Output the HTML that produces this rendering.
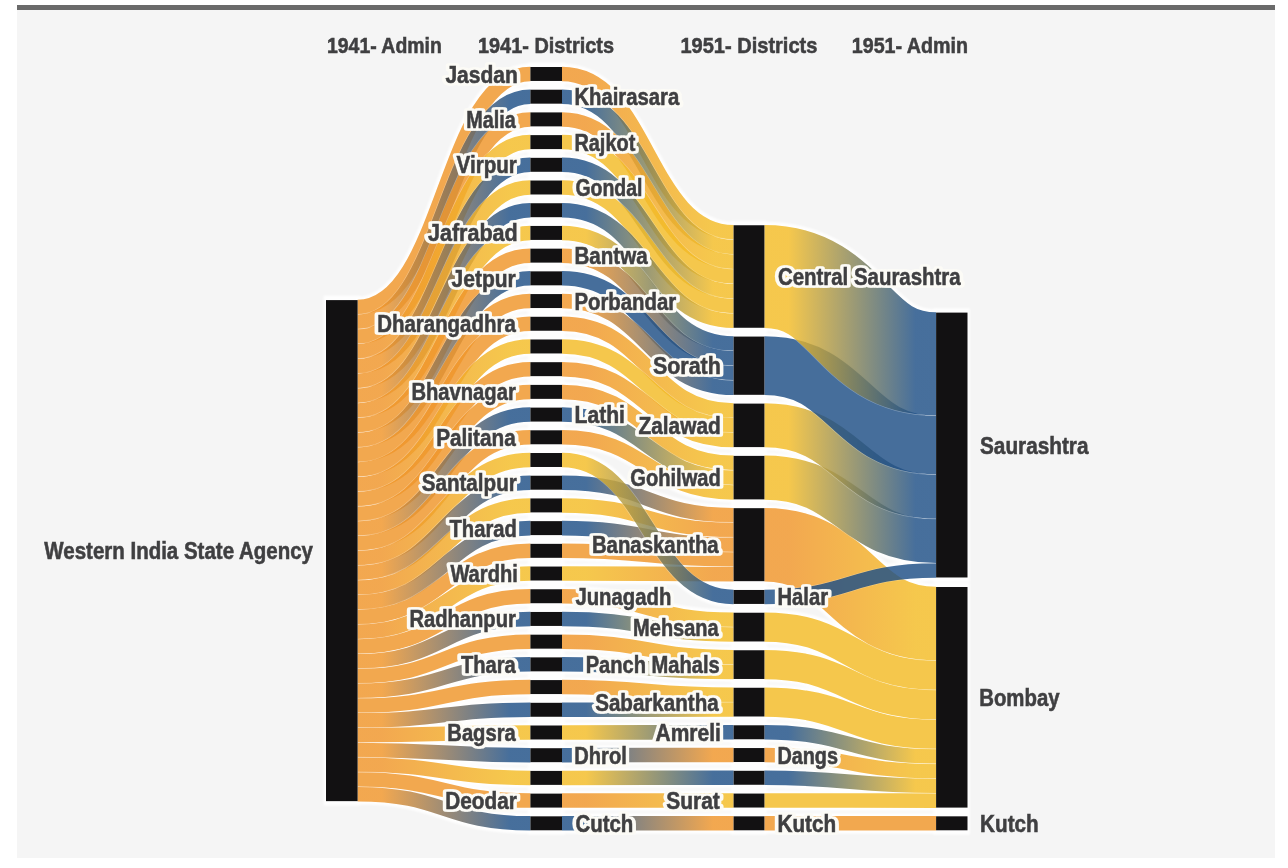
<!DOCTYPE html>
<html><head><meta charset="utf-8"><title>Sankey</title>
<style>
html,body{margin:0;padding:0;background:#fff;}
body{width:1288px;height:868px;overflow:hidden;position:relative;font-family:"Liberation Sans",sans-serif;}
#panel{position:absolute;left:17px;top:5px;width:1258px;height:853px;background:#f5f5f5;}
#bar{position:absolute;left:17px;top:5px;width:1258px;height:5px;background:#6a6a6a;}
svg{position:absolute;left:0;top:0;filter:blur(0.5px);}
.links path{fill:none;opacity:0.76;}
.under path{fill:none;stroke:#fff;opacity:0.9;}
.under rect{fill:#fff;opacity:0.9;}
.under{filter:blur(1.2px);}
.links path.o{stroke:#fff;opacity:0.3;}
.nodes rect{fill:#121112;}
text{font-family:"Liberation Sans",sans-serif;font-weight:bold;font-size:23.0px;fill:#3f3f41;stroke:#3f3f41;stroke-width:0.55px;}
text.hd{font-size:21.8px;}
text.h{fill:#fcfbf6;stroke:#fcfbf6;stroke-width:5.6px;stroke-linejoin:round;}
</style></head>
<body>
<div id="panel"></div><div id="bar"></div>
<svg width="1288" height="868" viewBox="0 0 1288 868">
<defs>
<linearGradient id="g2" gradientUnits="userSpaceOnUse" x1="357.6" x2="530.4" y1="0" y2="0"><stop offset="0.14" stop-color="#EE8C18"/><stop offset="0.88" stop-color="#0C417C"/></linearGradient>
<linearGradient id="g4" gradientUnits="userSpaceOnUse" x1="357.6" x2="530.4" y1="0" y2="0"><stop offset="0.14" stop-color="#EE8C18"/><stop offset="0.88" stop-color="#F2B614"/></linearGradient>
<linearGradient id="g5" gradientUnits="userSpaceOnUse" x1="357.6" x2="530.4" y1="0" y2="0"><stop offset="0.14" stop-color="#EE8C18"/><stop offset="0.88" stop-color="#0C417C"/></linearGradient>
<linearGradient id="g6" gradientUnits="userSpaceOnUse" x1="357.6" x2="530.4" y1="0" y2="0"><stop offset="0.14" stop-color="#EE8C18"/><stop offset="0.88" stop-color="#F2B614"/></linearGradient>
<linearGradient id="g7" gradientUnits="userSpaceOnUse" x1="357.6" x2="530.4" y1="0" y2="0"><stop offset="0.14" stop-color="#EE8C18"/><stop offset="0.88" stop-color="#0C417C"/></linearGradient>
<linearGradient id="g8" gradientUnits="userSpaceOnUse" x1="357.6" x2="530.4" y1="0" y2="0"><stop offset="0.14" stop-color="#EE8C18"/><stop offset="0.88" stop-color="#F2B614"/></linearGradient>
<linearGradient id="g10" gradientUnits="userSpaceOnUse" x1="357.6" x2="530.4" y1="0" y2="0"><stop offset="0.14" stop-color="#EE8C18"/><stop offset="0.88" stop-color="#0C417C"/></linearGradient>
<linearGradient id="g13" gradientUnits="userSpaceOnUse" x1="357.6" x2="530.4" y1="0" y2="0"><stop offset="0.14" stop-color="#EE8C18"/><stop offset="0.88" stop-color="#F2B614"/></linearGradient>
<linearGradient id="g16" gradientUnits="userSpaceOnUse" x1="357.6" x2="530.4" y1="0" y2="0"><stop offset="0.14" stop-color="#EE8C18"/><stop offset="0.88" stop-color="#0C417C"/></linearGradient>
<linearGradient id="g18" gradientUnits="userSpaceOnUse" x1="357.6" x2="530.4" y1="0" y2="0"><stop offset="0.14" stop-color="#EE8C18"/><stop offset="0.88" stop-color="#F2B614"/></linearGradient>
<linearGradient id="g19" gradientUnits="userSpaceOnUse" x1="357.6" x2="530.4" y1="0" y2="0"><stop offset="0.14" stop-color="#EE8C18"/><stop offset="0.88" stop-color="#0C417C"/></linearGradient>
<linearGradient id="g20" gradientUnits="userSpaceOnUse" x1="357.6" x2="530.4" y1="0" y2="0"><stop offset="0.14" stop-color="#EE8C18"/><stop offset="0.88" stop-color="#F2B614"/></linearGradient>
<linearGradient id="g21" gradientUnits="userSpaceOnUse" x1="357.6" x2="530.4" y1="0" y2="0"><stop offset="0.14" stop-color="#EE8C18"/><stop offset="0.88" stop-color="#0C417C"/></linearGradient>
<linearGradient id="g23" gradientUnits="userSpaceOnUse" x1="357.6" x2="530.4" y1="0" y2="0"><stop offset="0.14" stop-color="#EE8C18"/><stop offset="0.88" stop-color="#F2B614"/></linearGradient>
<linearGradient id="g25" gradientUnits="userSpaceOnUse" x1="357.6" x2="530.4" y1="0" y2="0"><stop offset="0.14" stop-color="#EE8C18"/><stop offset="0.88" stop-color="#0C417C"/></linearGradient>
<linearGradient id="g27" gradientUnits="userSpaceOnUse" x1="357.6" x2="530.4" y1="0" y2="0"><stop offset="0.14" stop-color="#EE8C18"/><stop offset="0.88" stop-color="#0C417C"/></linearGradient>
<linearGradient id="g29" gradientUnits="userSpaceOnUse" x1="357.6" x2="530.4" y1="0" y2="0"><stop offset="0.14" stop-color="#EE8C18"/><stop offset="0.88" stop-color="#0C417C"/></linearGradient>
<linearGradient id="g30" gradientUnits="userSpaceOnUse" x1="357.6" x2="530.4" y1="0" y2="0"><stop offset="0.14" stop-color="#EE8C18"/><stop offset="0.88" stop-color="#F2B614"/></linearGradient>
<linearGradient id="g31" gradientUnits="userSpaceOnUse" x1="357.6" x2="530.4" y1="0" y2="0"><stop offset="0.14" stop-color="#EE8C18"/><stop offset="0.88" stop-color="#0C417C"/></linearGradient>
<linearGradient id="g32" gradientUnits="userSpaceOnUse" x1="357.6" x2="530.4" y1="0" y2="0"><stop offset="0.14" stop-color="#EE8C18"/><stop offset="0.88" stop-color="#F2B614"/></linearGradient>
<linearGradient id="g34" gradientUnits="userSpaceOnUse" x1="357.6" x2="530.4" y1="0" y2="0"><stop offset="0.14" stop-color="#EE8C18"/><stop offset="0.88" stop-color="#0C417C"/></linearGradient>
<linearGradient id="g35" gradientUnits="userSpaceOnUse" x1="562.0" x2="733.6" y1="0" y2="0"><stop offset="0.14" stop-color="#EE8C18"/><stop offset="0.88" stop-color="#F2B614"/></linearGradient>
<linearGradient id="g36" gradientUnits="userSpaceOnUse" x1="562.0" x2="733.6" y1="0" y2="0"><stop offset="0.14" stop-color="#0C417C"/><stop offset="0.88" stop-color="#F2B614"/></linearGradient>
<linearGradient id="g37" gradientUnits="userSpaceOnUse" x1="562.0" x2="733.6" y1="0" y2="0"><stop offset="0.14" stop-color="#EE8C18"/><stop offset="0.88" stop-color="#F2B614"/></linearGradient>
<linearGradient id="g39" gradientUnits="userSpaceOnUse" x1="562.0" x2="733.6" y1="0" y2="0"><stop offset="0.14" stop-color="#0C417C"/><stop offset="0.88" stop-color="#F2B614"/></linearGradient>
<linearGradient id="g41" gradientUnits="userSpaceOnUse" x1="562.0" x2="733.6" y1="0" y2="0"><stop offset="0.14" stop-color="#0C417C"/><stop offset="0.88" stop-color="#F2B614"/></linearGradient>
<linearGradient id="g42" gradientUnits="userSpaceOnUse" x1="562.0" x2="733.6" y1="0" y2="0"><stop offset="0.14" stop-color="#F2B614"/><stop offset="0.88" stop-color="#0C417C"/></linearGradient>
<linearGradient id="g43" gradientUnits="userSpaceOnUse" x1="562.0" x2="733.6" y1="0" y2="0"><stop offset="0.14" stop-color="#EE8C18"/><stop offset="0.88" stop-color="#0C417C"/></linearGradient>
<linearGradient id="g45" gradientUnits="userSpaceOnUse" x1="562.0" x2="733.6" y1="0" y2="0"><stop offset="0.14" stop-color="#EE8C18"/><stop offset="0.88" stop-color="#0C417C"/></linearGradient>
<linearGradient id="g46" gradientUnits="userSpaceOnUse" x1="562.0" x2="733.6" y1="0" y2="0"><stop offset="0.14" stop-color="#EE8C18"/><stop offset="0.88" stop-color="#F2B614"/></linearGradient>
<linearGradient id="g48" gradientUnits="userSpaceOnUse" x1="562.0" x2="733.6" y1="0" y2="0"><stop offset="0.14" stop-color="#EE8C18"/><stop offset="0.88" stop-color="#F2B614"/></linearGradient>
<linearGradient id="g49" gradientUnits="userSpaceOnUse" x1="562.0" x2="733.6" y1="0" y2="0"><stop offset="0.14" stop-color="#EE8C18"/><stop offset="0.88" stop-color="#F2B614"/></linearGradient>
<linearGradient id="g50" gradientUnits="userSpaceOnUse" x1="562.0" x2="733.6" y1="0" y2="0"><stop offset="0.14" stop-color="#0C417C"/><stop offset="0.88" stop-color="#F2B614"/></linearGradient>
<linearGradient id="g51" gradientUnits="userSpaceOnUse" x1="562.0" x2="733.6" y1="0" y2="0"><stop offset="0.14" stop-color="#EE8C18"/><stop offset="0.88" stop-color="#F2B614"/></linearGradient>
<linearGradient id="g52" gradientUnits="userSpaceOnUse" x1="562.0" x2="733.6" y1="0" y2="0"><stop offset="0.14" stop-color="#F2B614"/><stop offset="0.88" stop-color="#0C417C"/></linearGradient>
<linearGradient id="g53" gradientUnits="userSpaceOnUse" x1="562.0" x2="733.6" y1="0" y2="0"><stop offset="0.14" stop-color="#0C417C"/><stop offset="0.88" stop-color="#EE8C18"/></linearGradient>
<linearGradient id="g54" gradientUnits="userSpaceOnUse" x1="562.0" x2="733.6" y1="0" y2="0"><stop offset="0.14" stop-color="#F2B614"/><stop offset="0.88" stop-color="#EE8C18"/></linearGradient>
<linearGradient id="g55" gradientUnits="userSpaceOnUse" x1="562.0" x2="733.6" y1="0" y2="0"><stop offset="0.14" stop-color="#0C417C"/><stop offset="0.88" stop-color="#EE8C18"/></linearGradient>
<linearGradient id="g57" gradientUnits="userSpaceOnUse" x1="562.0" x2="733.6" y1="0" y2="0"><stop offset="0.14" stop-color="#F2B614"/><stop offset="0.88" stop-color="#EE8C18"/></linearGradient>
<linearGradient id="g58" gradientUnits="userSpaceOnUse" x1="562.0" x2="733.6" y1="0" y2="0"><stop offset="0.14" stop-color="#EE8C18"/><stop offset="0.88" stop-color="#F2B614"/></linearGradient>
<linearGradient id="g59" gradientUnits="userSpaceOnUse" x1="562.0" x2="733.6" y1="0" y2="0"><stop offset="0.14" stop-color="#0C417C"/><stop offset="0.88" stop-color="#F2B614"/></linearGradient>
<linearGradient id="g60" gradientUnits="userSpaceOnUse" x1="562.0" x2="733.6" y1="0" y2="0"><stop offset="0.14" stop-color="#EE8C18"/><stop offset="0.88" stop-color="#F2B614"/></linearGradient>
<linearGradient id="g61" gradientUnits="userSpaceOnUse" x1="562.0" x2="733.6" y1="0" y2="0"><stop offset="0.14" stop-color="#0C417C"/><stop offset="0.88" stop-color="#F2B614"/></linearGradient>
<linearGradient id="g62" gradientUnits="userSpaceOnUse" x1="562.0" x2="733.6" y1="0" y2="0"><stop offset="0.14" stop-color="#EE8C18"/><stop offset="0.88" stop-color="#F2B614"/></linearGradient>
<linearGradient id="g63" gradientUnits="userSpaceOnUse" x1="562.0" x2="733.6" y1="0" y2="0"><stop offset="0.14" stop-color="#0C417C"/><stop offset="0.88" stop-color="#F2B614"/></linearGradient>
<linearGradient id="g64" gradientUnits="userSpaceOnUse" x1="562.0" x2="733.6" y1="0" y2="0"><stop offset="0.14" stop-color="#F2B614"/><stop offset="0.88" stop-color="#0C417C"/></linearGradient>
<linearGradient id="g65" gradientUnits="userSpaceOnUse" x1="562.0" x2="733.6" y1="0" y2="0"><stop offset="0.14" stop-color="#0C417C"/><stop offset="0.88" stop-color="#EE8C18"/></linearGradient>
<linearGradient id="g66" gradientUnits="userSpaceOnUse" x1="562.0" x2="733.6" y1="0" y2="0"><stop offset="0.14" stop-color="#F2B614"/><stop offset="0.88" stop-color="#0C417C"/></linearGradient>
<linearGradient id="g67" gradientUnits="userSpaceOnUse" x1="562.0" x2="733.6" y1="0" y2="0"><stop offset="0.14" stop-color="#EE8C18"/><stop offset="0.88" stop-color="#F2B614"/></linearGradient>
<linearGradient id="g68" gradientUnits="userSpaceOnUse" x1="562.0" x2="733.6" y1="0" y2="0"><stop offset="0.14" stop-color="#0C417C"/><stop offset="0.88" stop-color="#EE8C18"/></linearGradient>
<linearGradient id="g69" gradientUnits="userSpaceOnUse" x1="764.4" x2="936.1" y1="0" y2="0"><stop offset="0.14" stop-color="#F2B614"/><stop offset="0.88" stop-color="#0C417C"/></linearGradient>
<linearGradient id="g71" gradientUnits="userSpaceOnUse" x1="764.4" x2="936.1" y1="0" y2="0"><stop offset="0.14" stop-color="#F2B614"/><stop offset="0.88" stop-color="#0C417C"/></linearGradient>
<linearGradient id="g72" gradientUnits="userSpaceOnUse" x1="764.4" x2="936.1" y1="0" y2="0"><stop offset="0.14" stop-color="#F2B614"/><stop offset="0.88" stop-color="#0C417C"/></linearGradient>
<linearGradient id="g73" gradientUnits="userSpaceOnUse" x1="764.4" x2="936.1" y1="0" y2="0"><stop offset="0.14" stop-color="#EE8C18"/><stop offset="0.88" stop-color="#F2B614"/></linearGradient>
<linearGradient id="g78" gradientUnits="userSpaceOnUse" x1="764.4" x2="936.1" y1="0" y2="0"><stop offset="0.14" stop-color="#0C417C"/><stop offset="0.88" stop-color="#F2B614"/></linearGradient>
<linearGradient id="g79" gradientUnits="userSpaceOnUse" x1="764.4" x2="936.1" y1="0" y2="0"><stop offset="0.14" stop-color="#EE8C18"/><stop offset="0.88" stop-color="#F2B614"/></linearGradient>
<linearGradient id="g80" gradientUnits="userSpaceOnUse" x1="764.4" x2="936.1" y1="0" y2="0"><stop offset="0.14" stop-color="#0C417C"/><stop offset="0.88" stop-color="#F2B614"/></linearGradient>
</defs>
<g class="under">
<path d="M357.60,307.08C444.00,307.08 444.00,73.98 530.40,73.98" stroke-width="20.76"/>
<path d="M357.60,321.84C444.00,321.84 444.00,96.69 530.40,96.69" stroke-width="20.76"/>
<path d="M357.60,336.60C444.00,336.60 444.00,119.39 530.40,119.39" stroke-width="20.76"/>
<path d="M357.60,351.36C444.00,351.36 444.00,142.10 530.40,142.10" stroke-width="20.76"/>
<path d="M357.60,366.12C444.00,366.12 444.00,164.81 530.40,164.81" stroke-width="20.76"/>
<path d="M357.60,380.88C444.00,380.88 444.00,187.51 530.40,187.51" stroke-width="20.76"/>
<path d="M357.60,395.64C444.00,395.64 444.00,210.22 530.40,210.22" stroke-width="20.76"/>
<path d="M357.60,410.40C444.00,410.40 444.00,232.93 530.40,232.93" stroke-width="20.76"/>
<path d="M357.60,425.16C444.00,425.16 444.00,255.64 530.40,255.64" stroke-width="20.76"/>
<path d="M357.60,439.92C444.00,439.92 444.00,278.34 530.40,278.34" stroke-width="20.76"/>
<path d="M357.60,454.68C444.00,454.68 444.00,301.05 530.40,301.05" stroke-width="20.76"/>
<path d="M357.60,469.44C444.00,469.44 444.00,323.76 530.40,323.76" stroke-width="20.76"/>
<path d="M357.60,484.20C444.00,484.20 444.00,346.46 530.40,346.46" stroke-width="20.76"/>
<path d="M357.60,498.96C444.00,498.96 444.00,369.17 530.40,369.17" stroke-width="20.76"/>
<path d="M357.60,513.72C444.00,513.72 444.00,391.88 530.40,391.88" stroke-width="20.76"/>
<path d="M357.60,528.48C444.00,528.48 444.00,414.59 530.40,414.59" stroke-width="20.76"/>
<path d="M357.60,543.24C444.00,543.24 444.00,437.29 530.40,437.29" stroke-width="20.76"/>
<path d="M357.60,558.00C444.00,558.00 444.00,460.00 530.40,460.00" stroke-width="20.76"/>
<path d="M357.60,572.76C444.00,572.76 444.00,482.71 530.40,482.71" stroke-width="20.76"/>
<path d="M357.60,587.52C444.00,587.52 444.00,505.41 530.40,505.41" stroke-width="20.76"/>
<path d="M357.60,602.28C444.00,602.28 444.00,528.12 530.40,528.12" stroke-width="20.76"/>
<path d="M357.60,617.04C444.00,617.04 444.00,550.83 530.40,550.83" stroke-width="20.76"/>
<path d="M357.60,631.80C444.00,631.80 444.00,573.53 530.40,573.53" stroke-width="20.76"/>
<path d="M357.60,646.56C444.00,646.56 444.00,596.24 530.40,596.24" stroke-width="20.76"/>
<path d="M357.60,661.32C444.00,661.32 444.00,618.95 530.40,618.95" stroke-width="20.76"/>
<path d="M357.60,676.08C444.00,676.08 444.00,641.66 530.40,641.66" stroke-width="20.76"/>
<path d="M357.60,690.84C444.00,690.84 444.00,664.36 530.40,664.36" stroke-width="20.76"/>
<path d="M357.60,705.60C444.00,705.60 444.00,687.07 530.40,687.07" stroke-width="20.76"/>
<path d="M357.60,720.36C444.00,720.36 444.00,709.78 530.40,709.78" stroke-width="20.76"/>
<path d="M357.60,735.12C444.00,735.12 444.00,732.48 530.40,732.48" stroke-width="20.76"/>
<path d="M357.60,749.88C444.00,749.88 444.00,755.19 530.40,755.19" stroke-width="20.76"/>
<path d="M357.60,764.64C444.00,764.64 444.00,777.90 530.40,777.90" stroke-width="20.76"/>
<path d="M357.60,779.40C444.00,779.40 444.00,800.60 530.40,800.60" stroke-width="20.76"/>
<path d="M357.60,794.16C444.00,794.16 444.00,823.31 530.40,823.31" stroke-width="20.76"/>
<path d="M562.00,73.98C647.80,73.98 647.80,232.23 733.60,232.23" stroke-width="20.76"/>
<path d="M562.00,96.69C647.80,96.69 647.80,246.99 733.60,246.99" stroke-width="20.76"/>
<path d="M562.00,119.39C647.80,119.39 647.80,261.75 733.60,261.75" stroke-width="20.76"/>
<path d="M562.00,142.10C647.80,142.10 647.80,276.51 733.60,276.51" stroke-width="20.76"/>
<path d="M562.00,164.81C647.80,164.81 647.80,291.27 733.60,291.27" stroke-width="20.76"/>
<path d="M562.00,187.51C647.80,187.51 647.80,306.03 733.60,306.03" stroke-width="20.76"/>
<path d="M562.00,210.22C647.80,210.22 647.80,320.79 733.60,320.79" stroke-width="20.76"/>
<path d="M562.00,232.93C647.80,232.93 647.80,343.55 733.60,343.55" stroke-width="20.76"/>
<path d="M562.00,255.64C647.80,255.64 647.80,358.31 733.60,358.31" stroke-width="20.76"/>
<path d="M562.00,278.34C647.80,278.34 647.80,373.07 733.60,373.07" stroke-width="20.76"/>
<path d="M562.00,301.05C647.80,301.05 647.80,387.83 733.60,387.83" stroke-width="20.76"/>
<path d="M562.00,323.76C647.80,323.76 647.80,410.59 733.60,410.59" stroke-width="20.76"/>
<path d="M562.00,346.46C647.80,346.46 647.80,425.35 733.60,425.35" stroke-width="20.76"/>
<path d="M562.00,369.17C647.80,369.17 647.80,440.11 733.60,440.11" stroke-width="20.76"/>
<path d="M562.00,391.88C647.80,391.88 647.80,462.87 733.60,462.87" stroke-width="20.76"/>
<path d="M562.00,414.59C647.80,414.59 647.80,477.63 733.60,477.63" stroke-width="20.76"/>
<path d="M562.00,437.29C647.80,437.29 647.80,492.39 733.60,492.39" stroke-width="20.76"/>
<path d="M562.00,460.00C647.80,460.00 647.80,596.95 733.60,596.95" stroke-width="20.76"/>
<path d="M562.00,482.71C647.80,482.71 647.80,515.15 733.60,515.15" stroke-width="20.76"/>
<path d="M562.00,505.41C647.80,505.41 647.80,529.91 733.60,529.91" stroke-width="20.76"/>
<path d="M562.00,528.12C647.80,528.12 647.80,544.67 733.60,544.67" stroke-width="20.76"/>
<path d="M562.00,550.83C647.80,550.83 647.80,559.43 733.60,559.43" stroke-width="20.76"/>
<path d="M562.00,573.53C647.80,573.53 647.80,574.19 733.60,574.19" stroke-width="20.76"/>
<path d="M562.00,596.24C647.80,596.24 647.80,619.71 733.60,619.71" stroke-width="20.76"/>
<path d="M562.00,618.95C647.80,618.95 647.80,634.47 733.60,634.47" stroke-width="20.76"/>
<path d="M562.00,641.66C647.80,641.66 647.80,657.23 733.60,657.23" stroke-width="20.76"/>
<path d="M562.00,664.36C647.80,664.36 647.80,671.99 733.60,671.99" stroke-width="20.76"/>
<path d="M562.00,687.07C647.80,687.07 647.80,694.75 733.60,694.75" stroke-width="20.76"/>
<path d="M562.00,709.78C647.80,709.78 647.80,709.51 733.60,709.51" stroke-width="20.76"/>
<path d="M562.00,732.48C647.80,732.48 647.80,732.27 733.60,732.27" stroke-width="20.76"/>
<path d="M562.00,755.19C647.80,755.19 647.80,755.03 733.60,755.03" stroke-width="20.76"/>
<path d="M562.00,777.90C647.80,777.90 647.80,777.79 733.60,777.79" stroke-width="20.76"/>
<path d="M562.00,800.60C647.80,800.60 647.80,800.55 733.60,800.55" stroke-width="20.76"/>
<path d="M562.00,823.31C647.80,823.31 647.80,823.31 733.60,823.31" stroke-width="20.76"/>
<path d="M764.40,276.51C850.25,276.51 850.25,363.86 936.10,363.86" stroke-width="109.32"/>
<path d="M764.40,365.69C850.25,365.69 850.25,445.04 936.10,445.04" stroke-width="65.04"/>
<path d="M764.40,425.35C850.25,425.35 850.25,496.70 936.10,496.70" stroke-width="50.28"/>
<path d="M764.40,477.63C850.25,477.63 850.25,540.98 936.10,540.98" stroke-width="50.28"/>
<path d="M764.40,544.67C850.25,544.67 850.25,623.50 936.10,623.50" stroke-width="79.80"/>
<path d="M764.40,596.95C850.25,596.95 850.25,570.50 936.10,570.50" stroke-width="20.76"/>
<path d="M764.40,627.09C850.25,627.09 850.25,675.16 936.10,675.16" stroke-width="35.52"/>
<path d="M764.40,664.61C850.25,664.61 850.25,704.68 936.10,704.68" stroke-width="35.52"/>
<path d="M764.40,702.13C850.25,702.13 850.25,734.20 936.10,734.20" stroke-width="35.52"/>
<path d="M764.40,732.27C850.25,732.27 850.25,756.34 936.10,756.34" stroke-width="20.76"/>
<path d="M764.40,755.03C850.25,755.03 850.25,771.10 936.10,771.10" stroke-width="20.76"/>
<path d="M764.40,777.79C850.25,777.79 850.25,785.86 936.10,785.86" stroke-width="20.76"/>
<path d="M764.40,800.55C850.25,800.55 850.25,800.62 936.10,800.62" stroke-width="20.76"/>
<path d="M764.40,823.31C850.25,823.31 850.25,823.31 936.10,823.31" stroke-width="20.76"/>
<rect x="323.5" y="295.70" width="36.6" height="509.84"/>
<rect x="527.9" y="62.60" width="36.6" height="22.76"/>
<rect x="527.9" y="85.31" width="36.6" height="22.76"/>
<rect x="527.9" y="108.01" width="36.6" height="22.76"/>
<rect x="527.9" y="130.72" width="36.6" height="22.76"/>
<rect x="527.9" y="153.43" width="36.6" height="22.76"/>
<rect x="527.9" y="176.13" width="36.6" height="22.76"/>
<rect x="527.9" y="198.84" width="36.6" height="22.76"/>
<rect x="527.9" y="221.55" width="36.6" height="22.76"/>
<rect x="527.9" y="244.26" width="36.6" height="22.76"/>
<rect x="527.9" y="266.96" width="36.6" height="22.76"/>
<rect x="527.9" y="289.67" width="36.6" height="22.76"/>
<rect x="527.9" y="312.38" width="36.6" height="22.76"/>
<rect x="527.9" y="335.08" width="36.6" height="22.76"/>
<rect x="527.9" y="357.79" width="36.6" height="22.76"/>
<rect x="527.9" y="380.50" width="36.6" height="22.76"/>
<rect x="527.9" y="403.21" width="36.6" height="22.76"/>
<rect x="527.9" y="425.91" width="36.6" height="22.76"/>
<rect x="527.9" y="448.62" width="36.6" height="22.76"/>
<rect x="527.9" y="471.33" width="36.6" height="22.76"/>
<rect x="527.9" y="494.03" width="36.6" height="22.76"/>
<rect x="527.9" y="516.74" width="36.6" height="22.76"/>
<rect x="527.9" y="539.45" width="36.6" height="22.76"/>
<rect x="527.9" y="562.15" width="36.6" height="22.76"/>
<rect x="527.9" y="584.86" width="36.6" height="22.76"/>
<rect x="527.9" y="607.57" width="36.6" height="22.76"/>
<rect x="527.9" y="630.28" width="36.6" height="22.76"/>
<rect x="527.9" y="652.98" width="36.6" height="22.76"/>
<rect x="527.9" y="675.69" width="36.6" height="22.76"/>
<rect x="527.9" y="698.40" width="36.6" height="22.76"/>
<rect x="527.9" y="721.10" width="36.6" height="22.76"/>
<rect x="527.9" y="743.81" width="36.6" height="22.76"/>
<rect x="527.9" y="766.52" width="36.6" height="22.76"/>
<rect x="527.9" y="789.22" width="36.6" height="22.76"/>
<rect x="527.9" y="811.93" width="36.6" height="22.76"/>
<rect x="731.1" y="220.85" width="35.8" height="111.32"/>
<rect x="731.1" y="332.17" width="35.8" height="67.04"/>
<rect x="731.1" y="399.21" width="35.8" height="52.28"/>
<rect x="731.1" y="451.49" width="35.8" height="52.28"/>
<rect x="731.1" y="503.77" width="35.8" height="81.80"/>
<rect x="731.1" y="585.57" width="35.8" height="22.76"/>
<rect x="731.1" y="608.33" width="35.8" height="37.52"/>
<rect x="731.1" y="645.85" width="35.8" height="37.52"/>
<rect x="731.1" y="683.37" width="35.8" height="37.52"/>
<rect x="731.1" y="720.89" width="35.8" height="22.76"/>
<rect x="731.1" y="743.65" width="35.8" height="22.76"/>
<rect x="731.1" y="766.41" width="35.8" height="22.76"/>
<rect x="731.1" y="789.17" width="35.8" height="22.76"/>
<rect x="731.1" y="811.93" width="35.8" height="22.76"/>
<rect x="933.6" y="308.20" width="36.4" height="273.68"/>
<rect x="933.6" y="582.60" width="36.4" height="229.40"/>
<rect x="933.6" y="811.93" width="36.4" height="22.76"/>
</g>
<g class="links">
<path class="o" d="M357.60,307.08C444.00,307.08 444.00,73.98 530.40,73.98" stroke-width="15.71"/><path d="M357.60,307.08C444.00,307.08 444.00,73.98 530.40,73.98" stroke="#EE8C18" stroke-width="14.51"/>
<path class="o" d="M357.60,321.84C444.00,321.84 444.00,96.69 530.40,96.69" stroke-width="15.71"/><path d="M357.60,321.84C444.00,321.84 444.00,96.69 530.40,96.69" stroke="url(#g2)" stroke-width="14.51"/>
<path class="o" d="M357.60,336.60C444.00,336.60 444.00,119.39 530.40,119.39" stroke-width="15.71"/><path d="M357.60,336.60C444.00,336.60 444.00,119.39 530.40,119.39" stroke="#EE8C18" stroke-width="14.51"/>
<path class="o" d="M357.60,351.36C444.00,351.36 444.00,142.10 530.40,142.10" stroke-width="15.71"/><path d="M357.60,351.36C444.00,351.36 444.00,142.10 530.40,142.10" stroke="url(#g4)" stroke-width="14.51"/>
<path class="o" d="M357.60,366.12C444.00,366.12 444.00,164.81 530.40,164.81" stroke-width="15.71"/><path d="M357.60,366.12C444.00,366.12 444.00,164.81 530.40,164.81" stroke="url(#g5)" stroke-width="14.51"/>
<path class="o" d="M357.60,380.88C444.00,380.88 444.00,187.51 530.40,187.51" stroke-width="15.71"/><path d="M357.60,380.88C444.00,380.88 444.00,187.51 530.40,187.51" stroke="url(#g6)" stroke-width="14.51"/>
<path class="o" d="M357.60,395.64C444.00,395.64 444.00,210.22 530.40,210.22" stroke-width="15.71"/><path d="M357.60,395.64C444.00,395.64 444.00,210.22 530.40,210.22" stroke="url(#g7)" stroke-width="14.51"/>
<path class="o" d="M357.60,410.40C444.00,410.40 444.00,232.93 530.40,232.93" stroke-width="15.71"/><path d="M357.60,410.40C444.00,410.40 444.00,232.93 530.40,232.93" stroke="url(#g8)" stroke-width="14.51"/>
<path class="o" d="M357.60,425.16C444.00,425.16 444.00,255.64 530.40,255.64" stroke-width="15.71"/><path d="M357.60,425.16C444.00,425.16 444.00,255.64 530.40,255.64" stroke="#EE8C18" stroke-width="14.51"/>
<path class="o" d="M357.60,439.92C444.00,439.92 444.00,278.34 530.40,278.34" stroke-width="15.71"/><path d="M357.60,439.92C444.00,439.92 444.00,278.34 530.40,278.34" stroke="url(#g10)" stroke-width="14.51"/>
<path class="o" d="M357.60,454.68C444.00,454.68 444.00,301.05 530.40,301.05" stroke-width="15.71"/><path d="M357.60,454.68C444.00,454.68 444.00,301.05 530.40,301.05" stroke="#EE8C18" stroke-width="14.51"/>
<path class="o" d="M357.60,469.44C444.00,469.44 444.00,323.76 530.40,323.76" stroke-width="15.71"/><path d="M357.60,469.44C444.00,469.44 444.00,323.76 530.40,323.76" stroke="#EE8C18" stroke-width="14.51"/>
<path class="o" d="M357.60,484.20C444.00,484.20 444.00,346.46 530.40,346.46" stroke-width="15.71"/><path d="M357.60,484.20C444.00,484.20 444.00,346.46 530.40,346.46" stroke="url(#g13)" stroke-width="14.51"/>
<path class="o" d="M357.60,498.96C444.00,498.96 444.00,369.17 530.40,369.17" stroke-width="15.71"/><path d="M357.60,498.96C444.00,498.96 444.00,369.17 530.40,369.17" stroke="#EE8C18" stroke-width="14.51"/>
<path class="o" d="M357.60,513.72C444.00,513.72 444.00,391.88 530.40,391.88" stroke-width="15.71"/><path d="M357.60,513.72C444.00,513.72 444.00,391.88 530.40,391.88" stroke="#EE8C18" stroke-width="14.51"/>
<path class="o" d="M357.60,528.48C444.00,528.48 444.00,414.59 530.40,414.59" stroke-width="15.71"/><path d="M357.60,528.48C444.00,528.48 444.00,414.59 530.40,414.59" stroke="url(#g16)" stroke-width="14.51"/>
<path class="o" d="M357.60,543.24C444.00,543.24 444.00,437.29 530.40,437.29" stroke-width="15.71"/><path d="M357.60,543.24C444.00,543.24 444.00,437.29 530.40,437.29" stroke="#EE8C18" stroke-width="14.51"/>
<path class="o" d="M357.60,558.00C444.00,558.00 444.00,460.00 530.40,460.00" stroke-width="15.71"/><path d="M357.60,558.00C444.00,558.00 444.00,460.00 530.40,460.00" stroke="url(#g18)" stroke-width="14.51"/>
<path class="o" d="M357.60,572.76C444.00,572.76 444.00,482.71 530.40,482.71" stroke-width="15.71"/><path d="M357.60,572.76C444.00,572.76 444.00,482.71 530.40,482.71" stroke="url(#g19)" stroke-width="14.51"/>
<path class="o" d="M357.60,587.52C444.00,587.52 444.00,505.41 530.40,505.41" stroke-width="15.71"/><path d="M357.60,587.52C444.00,587.52 444.00,505.41 530.40,505.41" stroke="url(#g20)" stroke-width="14.51"/>
<path class="o" d="M357.60,602.28C444.00,602.28 444.00,528.12 530.40,528.12" stroke-width="15.71"/><path d="M357.60,602.28C444.00,602.28 444.00,528.12 530.40,528.12" stroke="url(#g21)" stroke-width="14.51"/>
<path class="o" d="M357.60,617.04C444.00,617.04 444.00,550.83 530.40,550.83" stroke-width="15.71"/><path d="M357.60,617.04C444.00,617.04 444.00,550.83 530.40,550.83" stroke="#EE8C18" stroke-width="14.51"/>
<path class="o" d="M357.60,631.80C444.00,631.80 444.00,573.53 530.40,573.53" stroke-width="15.71"/><path d="M357.60,631.80C444.00,631.80 444.00,573.53 530.40,573.53" stroke="url(#g23)" stroke-width="14.51"/>
<path class="o" d="M357.60,646.56C444.00,646.56 444.00,596.24 530.40,596.24" stroke-width="15.71"/><path d="M357.60,646.56C444.00,646.56 444.00,596.24 530.40,596.24" stroke="#EE8C18" stroke-width="14.51"/>
<path class="o" d="M357.60,661.32C444.00,661.32 444.00,618.95 530.40,618.95" stroke-width="15.71"/><path d="M357.60,661.32C444.00,661.32 444.00,618.95 530.40,618.95" stroke="url(#g25)" stroke-width="14.51"/>
<path class="o" d="M357.60,676.08C444.00,676.08 444.00,641.66 530.40,641.66" stroke-width="15.71"/><path d="M357.60,676.08C444.00,676.08 444.00,641.66 530.40,641.66" stroke="#EE8C18" stroke-width="14.51"/>
<path class="o" d="M357.60,690.84C444.00,690.84 444.00,664.36 530.40,664.36" stroke-width="15.71"/><path d="M357.60,690.84C444.00,690.84 444.00,664.36 530.40,664.36" stroke="url(#g27)" stroke-width="14.51"/>
<path class="o" d="M357.60,705.60C444.00,705.60 444.00,687.07 530.40,687.07" stroke-width="15.71"/><path d="M357.60,705.60C444.00,705.60 444.00,687.07 530.40,687.07" stroke="#EE8C18" stroke-width="14.51"/>
<path class="o" d="M357.60,720.36C444.00,720.36 444.00,709.78 530.40,709.78" stroke-width="15.71"/><path d="M357.60,720.36C444.00,720.36 444.00,709.78 530.40,709.78" stroke="url(#g29)" stroke-width="14.51"/>
<path class="o" d="M357.60,735.12C444.00,735.12 444.00,732.48 530.40,732.48" stroke-width="15.71"/><path d="M357.60,735.12C444.00,735.12 444.00,732.48 530.40,732.48" stroke="url(#g30)" stroke-width="14.51"/>
<path class="o" d="M357.60,749.88C444.00,749.88 444.00,755.19 530.40,755.19" stroke-width="15.71"/><path d="M357.60,749.88C444.00,749.88 444.00,755.19 530.40,755.19" stroke="url(#g31)" stroke-width="14.51"/>
<path class="o" d="M357.60,764.64C444.00,764.64 444.00,777.90 530.40,777.90" stroke-width="15.71"/><path d="M357.60,764.64C444.00,764.64 444.00,777.90 530.40,777.90" stroke="url(#g32)" stroke-width="14.51"/>
<path class="o" d="M357.60,779.40C444.00,779.40 444.00,800.60 530.40,800.60" stroke-width="15.71"/><path d="M357.60,779.40C444.00,779.40 444.00,800.60 530.40,800.60" stroke="#EE8C18" stroke-width="14.51"/>
<path class="o" d="M357.60,794.16C444.00,794.16 444.00,823.31 530.40,823.31" stroke-width="15.71"/><path d="M357.60,794.16C444.00,794.16 444.00,823.31 530.40,823.31" stroke="url(#g34)" stroke-width="14.51"/>
<path class="o" d="M562.00,73.98C647.80,73.98 647.80,232.23 733.60,232.23" stroke-width="15.71"/><path d="M562.00,73.98C647.80,73.98 647.80,232.23 733.60,232.23" stroke="url(#g35)" stroke-width="14.51"/>
<path class="o" d="M562.00,96.69C647.80,96.69 647.80,246.99 733.60,246.99" stroke-width="15.71"/><path d="M562.00,96.69C647.80,96.69 647.80,246.99 733.60,246.99" stroke="url(#g36)" stroke-width="14.51"/>
<path class="o" d="M562.00,119.39C647.80,119.39 647.80,261.75 733.60,261.75" stroke-width="15.71"/><path d="M562.00,119.39C647.80,119.39 647.80,261.75 733.60,261.75" stroke="url(#g37)" stroke-width="14.51"/>
<path class="o" d="M562.00,142.10C647.80,142.10 647.80,276.51 733.60,276.51" stroke-width="15.71"/><path d="M562.00,142.10C647.80,142.10 647.80,276.51 733.60,276.51" stroke="#F2B614" stroke-width="14.51"/>
<path class="o" d="M562.00,164.81C647.80,164.81 647.80,291.27 733.60,291.27" stroke-width="15.71"/><path d="M562.00,164.81C647.80,164.81 647.80,291.27 733.60,291.27" stroke="url(#g39)" stroke-width="14.51"/>
<path class="o" d="M562.00,187.51C647.80,187.51 647.80,306.03 733.60,306.03" stroke-width="15.71"/><path d="M562.00,187.51C647.80,187.51 647.80,306.03 733.60,306.03" stroke="#F2B614" stroke-width="14.51"/>
<path class="o" d="M562.00,210.22C647.80,210.22 647.80,320.79 733.60,320.79" stroke-width="15.71"/><path d="M562.00,210.22C647.80,210.22 647.80,320.79 733.60,320.79" stroke="url(#g41)" stroke-width="14.51"/>
<path class="o" d="M562.00,232.93C647.80,232.93 647.80,343.55 733.60,343.55" stroke-width="15.71"/><path d="M562.00,232.93C647.80,232.93 647.80,343.55 733.60,343.55" stroke="url(#g42)" stroke-width="14.51"/>
<path class="o" d="M562.00,255.64C647.80,255.64 647.80,358.31 733.60,358.31" stroke-width="15.71"/><path d="M562.00,255.64C647.80,255.64 647.80,358.31 733.60,358.31" stroke="url(#g43)" stroke-width="14.51"/>
<path class="o" d="M562.00,278.34C647.80,278.34 647.80,373.07 733.60,373.07" stroke-width="15.71"/><path d="M562.00,278.34C647.80,278.34 647.80,373.07 733.60,373.07" stroke="#0C417C" stroke-width="14.51"/>
<path class="o" d="M562.00,301.05C647.80,301.05 647.80,387.83 733.60,387.83" stroke-width="15.71"/><path d="M562.00,301.05C647.80,301.05 647.80,387.83 733.60,387.83" stroke="url(#g45)" stroke-width="14.51"/>
<path class="o" d="M562.00,323.76C647.80,323.76 647.80,410.59 733.60,410.59" stroke-width="15.71"/><path d="M562.00,323.76C647.80,323.76 647.80,410.59 733.60,410.59" stroke="url(#g46)" stroke-width="14.51"/>
<path class="o" d="M562.00,346.46C647.80,346.46 647.80,425.35 733.60,425.35" stroke-width="15.71"/><path d="M562.00,346.46C647.80,346.46 647.80,425.35 733.60,425.35" stroke="#F2B614" stroke-width="14.51"/>
<path class="o" d="M562.00,369.17C647.80,369.17 647.80,440.11 733.60,440.11" stroke-width="15.71"/><path d="M562.00,369.17C647.80,369.17 647.80,440.11 733.60,440.11" stroke="url(#g48)" stroke-width="14.51"/>
<path class="o" d="M562.00,391.88C647.80,391.88 647.80,462.87 733.60,462.87" stroke-width="15.71"/><path d="M562.00,391.88C647.80,391.88 647.80,462.87 733.60,462.87" stroke="url(#g49)" stroke-width="14.51"/>
<path class="o" d="M562.00,414.59C647.80,414.59 647.80,477.63 733.60,477.63" stroke-width="15.71"/><path d="M562.00,414.59C647.80,414.59 647.80,477.63 733.60,477.63" stroke="url(#g50)" stroke-width="14.51"/>
<path class="o" d="M562.00,437.29C647.80,437.29 647.80,492.39 733.60,492.39" stroke-width="15.71"/><path d="M562.00,437.29C647.80,437.29 647.80,492.39 733.60,492.39" stroke="url(#g51)" stroke-width="14.51"/>
<path class="o" d="M562.00,482.71C647.80,482.71 647.80,515.15 733.60,515.15" stroke-width="15.71"/><path d="M562.00,482.71C647.80,482.71 647.80,515.15 733.60,515.15" stroke="url(#g53)" stroke-width="14.51"/>
<path class="o" d="M562.00,505.41C647.80,505.41 647.80,529.91 733.60,529.91" stroke-width="15.71"/><path d="M562.00,505.41C647.80,505.41 647.80,529.91 733.60,529.91" stroke="url(#g54)" stroke-width="14.51"/>
<path class="o" d="M562.00,528.12C647.80,528.12 647.80,544.67 733.60,544.67" stroke-width="15.71"/><path d="M562.00,528.12C647.80,528.12 647.80,544.67 733.60,544.67" stroke="url(#g55)" stroke-width="14.51"/>
<path class="o" d="M562.00,550.83C647.80,550.83 647.80,559.43 733.60,559.43" stroke-width="15.71"/><path d="M562.00,550.83C647.80,550.83 647.80,559.43 733.60,559.43" stroke="#EE8C18" stroke-width="14.51"/>
<path class="o" d="M562.00,573.53C647.80,573.53 647.80,574.19 733.60,574.19" stroke-width="15.71"/><path d="M562.00,573.53C647.80,573.53 647.80,574.19 733.60,574.19" stroke="url(#g57)" stroke-width="14.51"/>
<path class="o" d="M562.00,596.24C647.80,596.24 647.80,619.71 733.60,619.71" stroke-width="15.71"/><path d="M562.00,596.24C647.80,596.24 647.80,619.71 733.60,619.71" stroke="url(#g58)" stroke-width="14.51"/>
<path class="o" d="M562.00,618.95C647.80,618.95 647.80,634.47 733.60,634.47" stroke-width="15.71"/><path d="M562.00,618.95C647.80,618.95 647.80,634.47 733.60,634.47" stroke="url(#g59)" stroke-width="14.51"/>
<path class="o" d="M562.00,641.66C647.80,641.66 647.80,657.23 733.60,657.23" stroke-width="15.71"/><path d="M562.00,641.66C647.80,641.66 647.80,657.23 733.60,657.23" stroke="url(#g60)" stroke-width="14.51"/>
<path class="o" d="M562.00,664.36C647.80,664.36 647.80,671.99 733.60,671.99" stroke-width="15.71"/><path d="M562.00,664.36C647.80,664.36 647.80,671.99 733.60,671.99" stroke="url(#g61)" stroke-width="14.51"/>
<path class="o" d="M562.00,687.07C647.80,687.07 647.80,694.75 733.60,694.75" stroke-width="15.71"/><path d="M562.00,687.07C647.80,687.07 647.80,694.75 733.60,694.75" stroke="url(#g62)" stroke-width="14.51"/>
<path class="o" d="M562.00,709.78C647.80,709.78 647.80,709.51 733.60,709.51" stroke-width="15.71"/><path d="M562.00,709.78C647.80,709.78 647.80,709.51 733.60,709.51" stroke="url(#g63)" stroke-width="14.51"/>
<path class="o" d="M562.00,732.48C647.80,732.48 647.80,732.27 733.60,732.27" stroke-width="15.71"/><path d="M562.00,732.48C647.80,732.48 647.80,732.27 733.60,732.27" stroke="url(#g64)" stroke-width="14.51"/>
<path class="o" d="M562.00,755.19C647.80,755.19 647.80,755.03 733.60,755.03" stroke-width="15.71"/><path d="M562.00,755.19C647.80,755.19 647.80,755.03 733.60,755.03" stroke="url(#g65)" stroke-width="14.51"/>
<path class="o" d="M562.00,777.90C647.80,777.90 647.80,777.79 733.60,777.79" stroke-width="15.71"/><path d="M562.00,777.90C647.80,777.90 647.80,777.79 733.60,777.79" stroke="url(#g66)" stroke-width="14.51"/>
<path class="o" d="M562.00,800.60C647.80,800.60 647.80,800.55 733.60,800.55" stroke-width="15.71"/><path d="M562.00,800.60C647.80,800.60 647.80,800.55 733.60,800.55" stroke="url(#g67)" stroke-width="14.51"/>
<path class="o" d="M562.00,823.31C647.80,823.31 647.80,823.31 733.60,823.31" stroke-width="15.71"/><path d="M562.00,823.31C647.80,823.31 647.80,823.31 733.60,823.31" stroke="url(#g68)" stroke-width="14.51"/>
<path class="o" d="M562.00,460.00C647.80,460.00 647.80,596.95 733.60,596.95" stroke-width="15.71"/><path d="M562.00,460.00C647.80,460.00 647.80,596.95 733.60,596.95" stroke="url(#g52)" stroke-width="14.51"/>
<path class="o" d="M764.40,823.31C850.25,823.31 850.25,823.31 936.10,823.31" stroke-width="15.71"/><path d="M764.40,823.31C850.25,823.31 850.25,823.31 936.10,823.31" stroke="#EE8C18" stroke-width="14.51"/>
<path class="o" d="M764.40,800.55C850.25,800.55 850.25,800.62 936.10,800.62" stroke-width="15.71"/><path d="M764.40,800.55C850.25,800.55 850.25,800.62 936.10,800.62" stroke="#F2B614" stroke-width="14.51"/>
<path class="o" d="M764.40,777.79C850.25,777.79 850.25,785.86 936.10,785.86" stroke-width="15.71"/><path d="M764.40,777.79C850.25,777.79 850.25,785.86 936.10,785.86" stroke="url(#g80)" stroke-width="14.51"/>
<path class="o" d="M764.40,755.03C850.25,755.03 850.25,771.10 936.10,771.10" stroke-width="15.71"/><path d="M764.40,755.03C850.25,755.03 850.25,771.10 936.10,771.10" stroke="url(#g79)" stroke-width="14.51"/>
<path class="o" d="M764.40,732.27C850.25,732.27 850.25,756.34 936.10,756.34" stroke-width="15.71"/><path d="M764.40,732.27C850.25,732.27 850.25,756.34 936.10,756.34" stroke="url(#g78)" stroke-width="14.51"/>
<path class="o" d="M764.40,702.13C850.25,702.13 850.25,734.20 936.10,734.20" stroke-width="30.47"/><path d="M764.40,702.13C850.25,702.13 850.25,734.20 936.10,734.20" stroke="#F2B614" stroke-width="29.27"/>
<path class="o" d="M764.40,664.61C850.25,664.61 850.25,704.68 936.10,704.68" stroke-width="30.47"/><path d="M764.40,664.61C850.25,664.61 850.25,704.68 936.10,704.68" stroke="#F2B614" stroke-width="29.27"/>
<path class="o" d="M764.40,627.09C850.25,627.09 850.25,675.16 936.10,675.16" stroke-width="30.47"/><path d="M764.40,627.09C850.25,627.09 850.25,675.16 936.10,675.16" stroke="#F2B614" stroke-width="29.27"/>
<path class="o" d="M764.40,544.67C850.25,544.67 850.25,623.50 936.10,623.50" stroke-width="74.75"/><path d="M764.40,544.67C850.25,544.67 850.25,623.50 936.10,623.50" stroke="url(#g73)" stroke-width="73.55"/>
<path class="o" d="M764.40,596.95C850.25,596.95 850.25,570.50 936.10,570.50" stroke-width="15.71"/><path d="M764.40,596.95C850.25,596.95 850.25,570.50 936.10,570.50" stroke="#0C417C" stroke-width="14.51"/>
<path class="o" d="M764.40,477.63C850.25,477.63 850.25,540.98 936.10,540.98" stroke-width="45.23"/><path d="M764.40,477.63C850.25,477.63 850.25,540.98 936.10,540.98" stroke="url(#g72)" stroke-width="44.03"/>
<path class="o" d="M764.40,425.35C850.25,425.35 850.25,496.70 936.10,496.70" stroke-width="45.23"/><path d="M764.40,425.35C850.25,425.35 850.25,496.70 936.10,496.70" stroke="url(#g71)" stroke-width="44.03"/>
<path class="o" d="M764.40,365.69C850.25,365.69 850.25,445.04 936.10,445.04" stroke-width="59.99"/><path d="M764.40,365.69C850.25,365.69 850.25,445.04 936.10,445.04" stroke="#0C417C" stroke-width="58.79"/>
<path class="o" d="M764.40,276.51C850.25,276.51 850.25,363.86 936.10,363.86" stroke-width="104.27"/><path d="M764.40,276.51C850.25,276.51 850.25,363.86 936.10,363.86" stroke="url(#g69)" stroke-width="103.07"/>
</g>
<g class="nodes">
<rect x="326.0" y="300.10" width="31.6" height="501.04"/>
<rect x="530.4" y="67.00" width="31.6" height="13.96"/>
<rect x="530.4" y="89.71" width="31.6" height="13.96"/>
<rect x="530.4" y="112.41" width="31.6" height="13.96"/>
<rect x="530.4" y="135.12" width="31.6" height="13.96"/>
<rect x="530.4" y="157.83" width="31.6" height="13.96"/>
<rect x="530.4" y="180.53" width="31.6" height="13.96"/>
<rect x="530.4" y="203.24" width="31.6" height="13.96"/>
<rect x="530.4" y="225.95" width="31.6" height="13.96"/>
<rect x="530.4" y="248.66" width="31.6" height="13.96"/>
<rect x="530.4" y="271.36" width="31.6" height="13.96"/>
<rect x="530.4" y="294.07" width="31.6" height="13.96"/>
<rect x="530.4" y="316.78" width="31.6" height="13.96"/>
<rect x="530.4" y="339.48" width="31.6" height="13.96"/>
<rect x="530.4" y="362.19" width="31.6" height="13.96"/>
<rect x="530.4" y="384.90" width="31.6" height="13.96"/>
<rect x="530.4" y="407.61" width="31.6" height="13.96"/>
<rect x="530.4" y="430.31" width="31.6" height="13.96"/>
<rect x="530.4" y="453.02" width="31.6" height="13.96"/>
<rect x="530.4" y="475.73" width="31.6" height="13.96"/>
<rect x="530.4" y="498.43" width="31.6" height="13.96"/>
<rect x="530.4" y="521.14" width="31.6" height="13.96"/>
<rect x="530.4" y="543.85" width="31.6" height="13.96"/>
<rect x="530.4" y="566.55" width="31.6" height="13.96"/>
<rect x="530.4" y="589.26" width="31.6" height="13.96"/>
<rect x="530.4" y="611.97" width="31.6" height="13.96"/>
<rect x="530.4" y="634.68" width="31.6" height="13.96"/>
<rect x="530.4" y="657.38" width="31.6" height="13.96"/>
<rect x="530.4" y="680.09" width="31.6" height="13.96"/>
<rect x="530.4" y="702.80" width="31.6" height="13.96"/>
<rect x="530.4" y="725.50" width="31.6" height="13.96"/>
<rect x="530.4" y="748.21" width="31.6" height="13.96"/>
<rect x="530.4" y="770.92" width="31.6" height="13.96"/>
<rect x="530.4" y="793.62" width="31.6" height="13.96"/>
<rect x="530.4" y="816.33" width="31.6" height="13.96"/>
<rect x="733.6" y="225.25" width="30.8" height="102.52"/>
<rect x="733.6" y="336.57" width="30.8" height="58.24"/>
<rect x="733.6" y="403.61" width="30.8" height="43.48"/>
<rect x="733.6" y="455.89" width="30.8" height="43.48"/>
<rect x="733.6" y="508.17" width="30.8" height="73.00"/>
<rect x="733.6" y="589.97" width="30.8" height="13.96"/>
<rect x="733.6" y="612.73" width="30.8" height="28.72"/>
<rect x="733.6" y="650.25" width="30.8" height="28.72"/>
<rect x="733.6" y="687.77" width="30.8" height="28.72"/>
<rect x="733.6" y="725.29" width="30.8" height="13.96"/>
<rect x="733.6" y="748.05" width="30.8" height="13.96"/>
<rect x="733.6" y="770.81" width="30.8" height="13.96"/>
<rect x="733.6" y="793.57" width="30.8" height="13.96"/>
<rect x="733.6" y="816.33" width="30.8" height="13.96"/>
<rect x="936.1" y="312.60" width="31.4" height="264.88"/>
<rect x="936.1" y="587.00" width="31.4" height="220.60"/>
<rect x="936.1" y="816.33" width="31.4" height="13.96"/>
</g>
<g class="labels">
<text class="h" x="444.0" y="82.5" textLength="72.4" lengthAdjust="spacingAndGlyphs">Jasdan</text>
<text class="h" x="446.8" y="82.5" textLength="72.4" lengthAdjust="spacingAndGlyphs">Jasdan</text>
<text x="445.4" y="82.5" textLength="72.4" lengthAdjust="spacingAndGlyphs">Jasdan</text>
<text class="h" x="573.0" y="105.2" textLength="104.9" lengthAdjust="spacingAndGlyphs">Khairasara</text>
<text class="h" x="575.8" y="105.2" textLength="104.9" lengthAdjust="spacingAndGlyphs">Khairasara</text>
<text x="574.4" y="105.2" textLength="104.9" lengthAdjust="spacingAndGlyphs">Khairasara</text>
<text class="h" x="464.9" y="127.9" textLength="49.5" lengthAdjust="spacingAndGlyphs">Malia</text>
<text class="h" x="467.7" y="127.9" textLength="49.5" lengthAdjust="spacingAndGlyphs">Malia</text>
<text x="466.3" y="127.9" textLength="49.5" lengthAdjust="spacingAndGlyphs">Malia</text>
<text class="h" x="573.0" y="150.6" textLength="60.9" lengthAdjust="spacingAndGlyphs">Rajkot</text>
<text class="h" x="575.8" y="150.6" textLength="60.9" lengthAdjust="spacingAndGlyphs">Rajkot</text>
<text x="574.4" y="150.6" textLength="60.9" lengthAdjust="spacingAndGlyphs">Rajkot</text>
<text class="h" x="455.2" y="173.3" textLength="60.2" lengthAdjust="spacingAndGlyphs">Virpur</text>
<text class="h" x="458.0" y="173.3" textLength="60.2" lengthAdjust="spacingAndGlyphs">Virpur</text>
<text x="456.6" y="173.3" textLength="60.2" lengthAdjust="spacingAndGlyphs">Virpur</text>
<text class="h" x="574.0" y="196.0" textLength="67.1" lengthAdjust="spacingAndGlyphs">Gondal</text>
<text class="h" x="576.8" y="196.0" textLength="67.1" lengthAdjust="spacingAndGlyphs">Gondal</text>
<text x="575.4" y="196.0" textLength="67.1" lengthAdjust="spacingAndGlyphs">Gondal</text>
<text class="h" x="426.5" y="241.4" textLength="89.9" lengthAdjust="spacingAndGlyphs">Jafrabad</text>
<text class="h" x="429.3" y="241.4" textLength="89.9" lengthAdjust="spacingAndGlyphs">Jafrabad</text>
<text x="427.9" y="241.4" textLength="89.9" lengthAdjust="spacingAndGlyphs">Jafrabad</text>
<text class="h" x="573.0" y="264.1" textLength="73.2" lengthAdjust="spacingAndGlyphs">Bantwa</text>
<text class="h" x="575.8" y="264.1" textLength="73.2" lengthAdjust="spacingAndGlyphs">Bantwa</text>
<text x="574.4" y="264.1" textLength="73.2" lengthAdjust="spacingAndGlyphs">Bantwa</text>
<text class="h" x="450.2" y="286.8" textLength="64.2" lengthAdjust="spacingAndGlyphs">Jetpur</text>
<text class="h" x="453.0" y="286.8" textLength="64.2" lengthAdjust="spacingAndGlyphs">Jetpur</text>
<text x="451.6" y="286.8" textLength="64.2" lengthAdjust="spacingAndGlyphs">Jetpur</text>
<text class="h" x="573.0" y="309.5" textLength="101.8" lengthAdjust="spacingAndGlyphs">Porbandar</text>
<text class="h" x="575.8" y="309.5" textLength="101.8" lengthAdjust="spacingAndGlyphs">Porbandar</text>
<text x="574.4" y="309.5" textLength="101.8" lengthAdjust="spacingAndGlyphs">Porbandar</text>
<text class="h" x="375.8" y="332.3" textLength="138.6" lengthAdjust="spacingAndGlyphs">Dharangadhra</text>
<text class="h" x="378.6" y="332.3" textLength="138.6" lengthAdjust="spacingAndGlyphs">Dharangadhra</text>
<text x="377.2" y="332.3" textLength="138.6" lengthAdjust="spacingAndGlyphs">Dharangadhra</text>
<text class="h" x="410.0" y="400.4" textLength="104.4" lengthAdjust="spacingAndGlyphs">Bhavnagar</text>
<text class="h" x="412.8" y="400.4" textLength="104.4" lengthAdjust="spacingAndGlyphs">Bhavnagar</text>
<text x="411.4" y="400.4" textLength="104.4" lengthAdjust="spacingAndGlyphs">Bhavnagar</text>
<text class="h" x="573.1" y="423.1" textLength="50.5" lengthAdjust="spacingAndGlyphs">Lathi</text>
<text class="h" x="575.9" y="423.1" textLength="50.5" lengthAdjust="spacingAndGlyphs">Lathi</text>
<text x="574.5" y="423.1" textLength="50.5" lengthAdjust="spacingAndGlyphs">Lathi</text>
<text class="h" x="434.8" y="445.8" textLength="79.6" lengthAdjust="spacingAndGlyphs">Palitana</text>
<text class="h" x="437.6" y="445.8" textLength="79.6" lengthAdjust="spacingAndGlyphs">Palitana</text>
<text x="436.2" y="445.8" textLength="79.6" lengthAdjust="spacingAndGlyphs">Palitana</text>
<text class="h" x="420.3" y="491.2" textLength="95.1" lengthAdjust="spacingAndGlyphs">Santalpur</text>
<text class="h" x="423.1" y="491.2" textLength="95.1" lengthAdjust="spacingAndGlyphs">Santalpur</text>
<text x="421.7" y="491.2" textLength="95.1" lengthAdjust="spacingAndGlyphs">Santalpur</text>
<text class="h" x="448.1" y="536.6" textLength="67.3" lengthAdjust="spacingAndGlyphs">Tharad</text>
<text class="h" x="450.9" y="536.6" textLength="67.3" lengthAdjust="spacingAndGlyphs">Tharad</text>
<text x="449.5" y="536.6" textLength="67.3" lengthAdjust="spacingAndGlyphs">Tharad</text>
<text class="h" x="449.0" y="582.0" textLength="67.4" lengthAdjust="spacingAndGlyphs">Wardhi</text>
<text class="h" x="451.8" y="582.0" textLength="67.4" lengthAdjust="spacingAndGlyphs">Wardhi</text>
<text x="450.4" y="582.0" textLength="67.4" lengthAdjust="spacingAndGlyphs">Wardhi</text>
<text class="h" x="574.0" y="604.7" textLength="95.9" lengthAdjust="spacingAndGlyphs">Junagadh</text>
<text class="h" x="576.8" y="604.7" textLength="95.9" lengthAdjust="spacingAndGlyphs">Junagadh</text>
<text x="575.4" y="604.7" textLength="95.9" lengthAdjust="spacingAndGlyphs">Junagadh</text>
<text class="h" x="408.0" y="627.4" textLength="106.4" lengthAdjust="spacingAndGlyphs">Radhanpur</text>
<text class="h" x="410.8" y="627.4" textLength="106.4" lengthAdjust="spacingAndGlyphs">Radhanpur</text>
<text x="409.4" y="627.4" textLength="106.4" lengthAdjust="spacingAndGlyphs">Radhanpur</text>
<text class="h" x="459.5" y="672.9" textLength="54.9" lengthAdjust="spacingAndGlyphs">Thara</text>
<text class="h" x="462.3" y="672.9" textLength="54.9" lengthAdjust="spacingAndGlyphs">Thara</text>
<text x="460.9" y="672.9" textLength="54.9" lengthAdjust="spacingAndGlyphs">Thara</text>
<text class="h" x="445.9" y="741.0" textLength="68.5" lengthAdjust="spacingAndGlyphs">Bagsra</text>
<text class="h" x="448.7" y="741.0" textLength="68.5" lengthAdjust="spacingAndGlyphs">Bagsra</text>
<text x="447.3" y="741.0" textLength="68.5" lengthAdjust="spacingAndGlyphs">Bagsra</text>
<text class="h" x="572.9" y="763.7" textLength="52.5" lengthAdjust="spacingAndGlyphs">Dhrol</text>
<text class="h" x="575.7" y="763.7" textLength="52.5" lengthAdjust="spacingAndGlyphs">Dhrol</text>
<text x="574.3" y="763.7" textLength="52.5" lengthAdjust="spacingAndGlyphs">Dhrol</text>
<text class="h" x="443.9" y="809.1" textLength="71.5" lengthAdjust="spacingAndGlyphs">Deodar</text>
<text class="h" x="446.7" y="809.1" textLength="71.5" lengthAdjust="spacingAndGlyphs">Deodar</text>
<text x="445.3" y="809.1" textLength="71.5" lengthAdjust="spacingAndGlyphs">Deodar</text>
<text class="h" x="574.0" y="831.8" textLength="57.9" lengthAdjust="spacingAndGlyphs">Cutch</text>
<text class="h" x="576.8" y="831.8" textLength="57.9" lengthAdjust="spacingAndGlyphs">Cutch</text>
<text x="575.4" y="831.8" textLength="57.9" lengthAdjust="spacingAndGlyphs">Cutch</text>
<text class="h" x="776.5" y="285.0" textLength="182.8" lengthAdjust="spacingAndGlyphs">Central Saurashtra</text>
<text class="h" x="779.3" y="285.0" textLength="182.8" lengthAdjust="spacingAndGlyphs">Central Saurashtra</text>
<text x="777.9" y="285.0" textLength="182.8" lengthAdjust="spacingAndGlyphs">Central Saurashtra</text>
<text class="h" x="651.6" y="374.2" textLength="67.8" lengthAdjust="spacingAndGlyphs">Sorath</text>
<text class="h" x="654.4" y="374.2" textLength="67.8" lengthAdjust="spacingAndGlyphs">Sorath</text>
<text x="653.0" y="374.2" textLength="67.8" lengthAdjust="spacingAndGlyphs">Sorath</text>
<text class="h" x="637.1" y="433.8" textLength="82.2" lengthAdjust="spacingAndGlyphs">Zalawad</text>
<text class="h" x="639.9" y="433.8" textLength="82.2" lengthAdjust="spacingAndGlyphs">Zalawad</text>
<text x="638.5" y="433.8" textLength="82.2" lengthAdjust="spacingAndGlyphs">Zalawad</text>
<text class="h" x="628.9" y="486.1" textLength="90.5" lengthAdjust="spacingAndGlyphs">Gohilwad</text>
<text class="h" x="631.7" y="486.1" textLength="90.5" lengthAdjust="spacingAndGlyphs">Gohilwad</text>
<text x="630.3" y="486.1" textLength="90.5" lengthAdjust="spacingAndGlyphs">Gohilwad</text>
<text class="h" x="590.5" y="553.2" textLength="126.8" lengthAdjust="spacingAndGlyphs">Banaskantha</text>
<text class="h" x="593.3" y="553.2" textLength="126.8" lengthAdjust="spacingAndGlyphs">Banaskantha</text>
<text x="591.9" y="553.2" textLength="126.8" lengthAdjust="spacingAndGlyphs">Banaskantha</text>
<text class="h" x="776.1" y="605.4" textLength="50.6" lengthAdjust="spacingAndGlyphs">Halar</text>
<text class="h" x="778.9" y="605.4" textLength="50.6" lengthAdjust="spacingAndGlyphs">Halar</text>
<text x="777.5" y="605.4" textLength="50.6" lengthAdjust="spacingAndGlyphs">Halar</text>
<text class="h" x="631.7" y="635.6" textLength="85.6" lengthAdjust="spacingAndGlyphs">Mehsana</text>
<text class="h" x="634.5" y="635.6" textLength="85.6" lengthAdjust="spacingAndGlyphs">Mehsana</text>
<text x="633.1" y="635.6" textLength="85.6" lengthAdjust="spacingAndGlyphs">Mehsana</text>
<text class="h" x="584.3" y="673.1" textLength="134.1" lengthAdjust="spacingAndGlyphs">Panch Mahals</text>
<text class="h" x="587.1" y="673.1" textLength="134.1" lengthAdjust="spacingAndGlyphs">Panch Mahals</text>
<text x="585.7" y="673.1" textLength="134.1" lengthAdjust="spacingAndGlyphs">Panch Mahals</text>
<text class="h" x="593.8" y="710.6" textLength="123.5" lengthAdjust="spacingAndGlyphs">Sabarkantha</text>
<text class="h" x="596.6" y="710.6" textLength="123.5" lengthAdjust="spacingAndGlyphs">Sabarkantha</text>
<text x="595.2" y="710.6" textLength="123.5" lengthAdjust="spacingAndGlyphs">Sabarkantha</text>
<text class="h" x="654.2" y="740.8" textLength="65.2" lengthAdjust="spacingAndGlyphs">Amreli</text>
<text class="h" x="657.0" y="740.8" textLength="65.2" lengthAdjust="spacingAndGlyphs">Amreli</text>
<text x="655.6" y="740.8" textLength="65.2" lengthAdjust="spacingAndGlyphs">Amreli</text>
<text class="h" x="776.0" y="763.5" textLength="60.6" lengthAdjust="spacingAndGlyphs">Dangs</text>
<text class="h" x="778.8" y="763.5" textLength="60.6" lengthAdjust="spacingAndGlyphs">Dangs</text>
<text x="777.4" y="763.5" textLength="60.6" lengthAdjust="spacingAndGlyphs">Dangs</text>
<text class="h" x="664.8" y="809.0" textLength="53.6" lengthAdjust="spacingAndGlyphs">Surat</text>
<text class="h" x="667.6" y="809.0" textLength="53.6" lengthAdjust="spacingAndGlyphs">Surat</text>
<text x="666.2" y="809.0" textLength="53.6" lengthAdjust="spacingAndGlyphs">Surat</text>
<text class="h" x="776.1" y="831.8" textLength="58.7" lengthAdjust="spacingAndGlyphs">Kutch</text>
<text class="h" x="778.9" y="831.8" textLength="58.7" lengthAdjust="spacingAndGlyphs">Kutch</text>
<text x="777.5" y="831.8" textLength="58.7" lengthAdjust="spacingAndGlyphs">Kutch</text>
<text x="980.0" y="453.5" textLength="108.5" lengthAdjust="spacingAndGlyphs">Saurashtra</text>
<text x="979.2" y="705.8" textLength="80.4" lengthAdjust="spacingAndGlyphs">Bombay</text>
<text x="980.1" y="831.8" textLength="58.6" lengthAdjust="spacingAndGlyphs">Kutch</text>
<text x="44.3" y="559.1" textLength="268.7" lengthAdjust="spacingAndGlyphs">Western India State Agency</text>
<text class="hd" x="327.0" y="53.4" textLength="114.8" lengthAdjust="spacingAndGlyphs">1941- Admin</text>
<text class="hd" x="478.0" y="53.4" textLength="136.0" lengthAdjust="spacingAndGlyphs">1941- Districts</text>
<text class="hd" x="680.4" y="53.4" textLength="137.0" lengthAdjust="spacingAndGlyphs">1951- Districts</text>
<text class="hd" x="851.8" y="53.4" textLength="116.2" lengthAdjust="spacingAndGlyphs">1951- Admin</text>
</g>
</svg>
</body></html>
